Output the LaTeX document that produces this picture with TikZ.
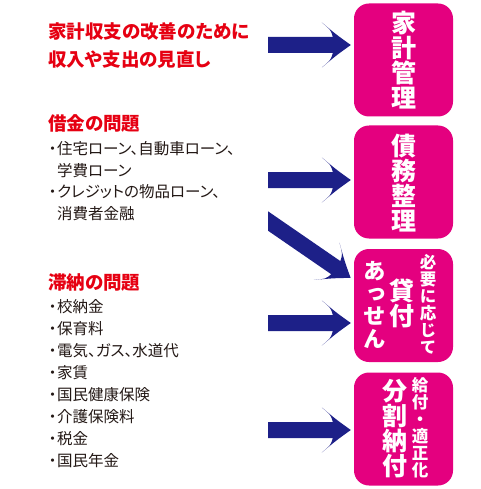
\documentclass[tikz,border=0pt]{standalone}
\usepackage{fontspec}
\setmainfont{Noto Sans CJK JP}[RawFeature=+palt]
\newfontfamily\vjp{Noto Sans CJK JP}[RawFeature=+vert]
\usetikzlibrary{calc}
\definecolor{jred}{HTML}{E60012}
\definecolor{jpink}{HTML}{E4007F}
\definecolor{jnavy}{HTML}{1D2088}
\definecolor{jtext}{HTML}{231815}
\tikzset{
  pbox/.style={fill=jpink, rounded corners=15pt, inner sep=0pt,
    minimum width=99pt, minimum height=113pt},
  vt/.style={align=center, text=white, inner sep=0pt},
  vbig/.style={vt, font=\vjp\bfseries\fontsize{25}{25}\selectfont},
  vmid/.style={vt, font=\vjp\bfseries\fontsize{22.5}{22.5}\selectfont},
  vsmall/.style={vt, font=\vjp\bfseries\fontsize{16.5}{17}\selectfont},
  head/.style={anchor=base west, inner sep=0pt, text=jred,
    font=\bfseries\fontsize{18.5}{20}\selectfont},
  item/.style={anchor=base west, inner sep=0pt, text=jtext,
    font=\fontsize{15.5}{16}\selectfont},
}
\newcommand\bul{\makebox[9pt][c]{・}}
\newcommand\fatarrow[2]{%
  \begin{scope}
  \clip (268,0) rectangle (480,489);
  \fill[jnavy] let \p1=(#1), \p2=(#2),
    \n1={atan2(\y2-\y1,\x2-\x1)}, \n2={veclen(\x2-\x1,\y2-\y1)} in
    [shift={(\p1)}, rotate=\n1]
    (-12,-8) -- ({\n2-18},-8) .. controls ({\n2-20},-15) .. ({\n2-29},-22.5)
    .. controls ({\n2-14},-10) .. (\n2,0)
    .. controls ({\n2-14},10) .. ({\n2-29},22.5)
    .. controls ({\n2-20},15) .. ({\n2-18},8) -- (-12,8) -- cycle;
  \end{scope}}
\begin{document}
\begin{tikzpicture}[x=1pt,y=-1pt]
\useasboundingbox[fill=white] (0,0) rectangle (480,489);
% boxes
\node[pbox] (b1) at (403.5,60) {};
\node[pbox] (b2) at (403.5,182) {};
\node[pbox] (b3) at (403.5,305.5) {};
\node[pbox] (b4) at (403.5,429) {};
% box texts
\node[vbig] (k1) at (b1) {家\\計\\管\\理};
\node[vbig] (k2) at ([yshift=-1pt]b2) {債\\務\\整\\理};
\node[vmid] (k3a) at (375,305) {あ\\っ\\せ\\ん};
\node[vbig] (k3b) at (402,303) {貸\\付};
\node[vsmall] (k3c) at (428,304) {必\\要\\に\\応\\じ\\て};
\node[vbig] (k4a) at (395,429) {分\\割\\納\\付};
\node[vsmall] (k4b) at (420,428) {給\\付\\・\\適\\正\\化};
% left texts
\node[head] (h1) at (48,38.5) {家計収支の改善のために};
\node[head] (h1b) at (48,67) {収入や支出の見直し};
\node[head] (h2) at (48,130.5) {借金の問題};
\node[item] (i21) at (48,154.5) {\bul 住宅ローン、自動車ローン、};
\node[item] (i22) at (48,176) {\hspace*{9pt}学費ローン};
\node[item] (i23) at (48,197.5) {\bul クレジットの物品ローン、};
\node[item] (i24) at (48,219.5) {\hspace*{9pt}消費者金融};
\node[head] (h3) at (48,289) {滞納の問題};
\foreach \t [count=\i] in {校納金,保育料,電気、ガス、水道代,家賃,国民健康保険,介護保険料,税金,国民年金}
  \node[item] (i3\i) at (48,{290.5+22*\i}) {\bul \t};
% arrows
\coordinate (s1) at (268,45);
\coordinate (s2) at (268,180);
\coordinate (s3) at (268,323);
\coordinate (s4) at (268,430);
\coordinate (sd) at (268,221);
\coordinate (yd) at (0,278);
\coordinate (t1) at ([xshift=-3pt]b1.west |- s1);
\coordinate (t2) at ([xshift=-3pt]b2.west |- s2);
\coordinate (t3) at ([xshift=-3pt]b3.west |- s3);
\coordinate (t4) at ([xshift=-3pt]b4.west |- s4);
\coordinate (td) at ([xshift=-3pt]b3.west |- yd);
\fatarrow{s1}{t1}
\fatarrow{s2}{t2}
\fatarrow{sd}{td}
\fatarrow{s3}{t3}
\fatarrow{s4}{t4}
\end{tikzpicture}
\end{document}
